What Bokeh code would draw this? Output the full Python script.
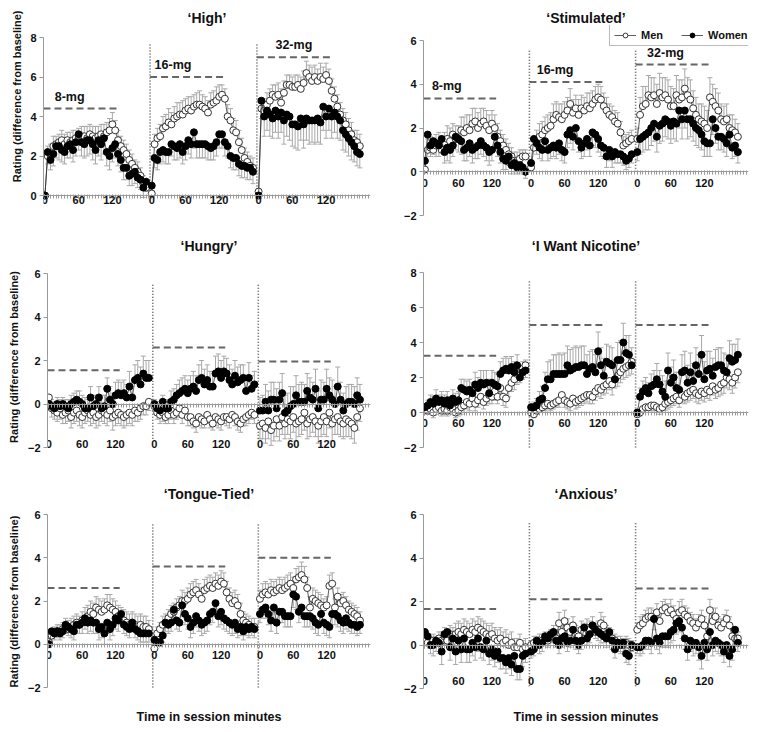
from bokeh.plotting import figure
from bokeh.models import (ColumnDataSource, Whisker, TeeHead, FixedTicker, Legend,
                          LegendItem, Title, Range1d, LinearAxis)
from bokeh.layouts import column, row
from bokeh.embed import file_html
from bokeh.resources import INLINE
from bokeh.core.properties import value

# ---------------- data ----------------
doses = ["8-mg", "16-mg", "32-mg"]
minutes_step = 5            # one rating every 5 min, 0..180 per session
session_points = 37
session_step = 38           # categories from one session start to the next
tick_minutes = [0, 60, 120]

titles = ["\u2018High\u2019", "\u2018Stimulated\u2019", "\u2018Hungry\u2019",
          "\u2018I Want Nicotine\u2019", "\u2018Tongue-Tied\u2019", "\u2018Anxious\u2019"]

# dashed reference levels per session
high_ref = [4.4, 6.0, 7.0]
stim_ref = [3.35, 4.1, 4.9]
hungry_ref = [1.55, 2.6, 1.95]
nic_ref = [3.25, 5.0, 5.0]
tongue_ref = [2.6, 3.6, 4.0]
anx_ref = [1.65, 2.1, 2.6]

# ---- 'High'
high_men = [
    [0.0, 2.0, 2.1, 2.5, 2.6, 2.7, 2.8, 2.6, 2.8, 2.7, 2.8, 2.9, 2.9, 3.0, 3.0, 2.9, 3.1, 3.0, 2.9, 3.0, 3.1, 3.0, 3.2, 3.3, 3.6, 3.3, 2.8, 2.5, 2.3, 2.1, 1.8, 1.6, 1.4, 1.2, 1.0, 0.6, 0.4],
    [0.1, 2.6, 2.9, 3.0, 3.4, 3.5, 3.7, 3.6, 3.9, 4.0, 4.1, 4.1, 4.3, 4.4, 4.3, 4.5, 4.6, 4.6, 4.5, 4.4, 4.2, 4.6, 4.7, 4.8, 5.0, 5.1, 4.9, 4.0, 3.8, 3.3, 3.2, 2.7, 2.3, 1.9, 1.7, 1.5, 1.4],
    [0.2, 4.4, 4.3, 4.6, 4.8, 5.1, 5.0, 5.1, 4.7, 5.2, 5.6, 5.6, 5.5, 5.5, 5.6, 5.4, 5.7, 6.2, 6.0, 5.8, 6.0, 5.8, 6.0, 5.9, 6.1, 5.8, 5.3, 4.9, 4.5, 4.1, 3.8, 3.6, 3.3, 3.1, 2.8, 2.7, 2.5],
]
high_men_err = [
    [0.0, 0.5, 0.5, 0.5, 0.4, 0.4, 0.5, 0.5, 0.4, 0.5, 0.5, 0.4, 0.5, 0.5, 0.5, 0.6, 0.5, 0.5, 0.6, 0.5, 0.5, 0.6, 0.5, 0.6, 0.6, 0.5, 0.5, 0.5, 0.5, 0.5, 0.5, 0.5, 0.4, 0.5, 0.4, 0.4, 0.4],
    [0.1, 0.5, 0.5, 0.6, 0.6, 0.6, 0.7, 0.6, 0.6, 0.7, 0.6, 0.7, 0.6, 0.6, 0.7, 0.6, 0.6, 0.7, 0.6, 0.6, 0.6, 0.6, 0.6, 0.7, 0.6, 0.5, 0.5, 0.6, 0.6, 0.6, 0.6, 0.6, 0.6, 0.5, 0.5, 0.5, 0.5],
    [0.1, 0.5, 0.6, 0.6, 0.6, 0.5, 0.6, 0.6, 0.7, 0.6, 0.5, 0.5, 0.5, 0.6, 0.5, 0.6, 0.6, 0.6, 0.6, 0.7, 0.6, 0.6, 0.7, 0.6, 0.6, 0.6, 0.6, 0.6, 0.6, 0.6, 0.6, 0.6, 0.6, 0.6, 0.5, 0.6, 0.6],
]
high_women = [
    [0.0, 2.2, 1.8, 2.1, 2.5, 2.5, 2.3, 2.2, 2.5, 2.6, 2.3, 2.7, 3.1, 2.7, 2.6, 2.8, 2.8, 2.6, 2.3, 2.8, 2.6, 2.9, 2.2, 2.0, 2.4, 2.6, 2.1, 1.8, 1.4, 1.4, 1.0, 1.1, 1.2, 0.9, 0.8, 0.4, 0.7],
    [0.5, 1.9, 1.8, 2.2, 2.3, 2.2, 2.2, 2.6, 2.5, 2.4, 2.6, 2.2, 2.5, 2.8, 2.6, 3.2, 2.6, 2.6, 2.6, 2.6, 2.5, 2.4, 2.5, 2.7, 3.1, 3.1, 2.7, 2.5, 2.0, 1.9, 1.9, 1.6, 1.5, 1.5, 1.4, 1.4, 1.2],
    [0.0, 4.8, 4.0, 4.3, 4.1, 3.9, 4.3, 4.0, 4.2, 3.8, 4.1, 4.0, 3.6, 3.6, 3.5, 3.9, 3.6, 3.9, 3.8, 3.8, 3.8, 3.9, 3.7, 4.5, 4.0, 4.4, 4.0, 4.2, 4.0, 3.8, 3.3, 3.1, 2.9, 2.7, 2.5, 2.2, 2.1],
]
high_women_err = [
    [0.0, 0.6, 0.5, 0.6, 0.6, 0.7, 0.6, 0.6, 0.6, 0.7, 0.6, 0.7, 0.8, 0.7, 0.7, 0.8, 0.7, 0.8, 0.7, 0.8, 0.8, 0.8, 0.7, 0.7, 0.7, 0.7, 0.6, 0.6, 0.6, 0.6, 0.5, 0.6, 0.6, 0.5, 0.5, 0.5, 0.5],
    [0.3, 0.5, 0.5, 0.6, 0.6, 0.6, 0.6, 0.6, 0.7, 0.6, 0.7, 0.6, 0.7, 0.7, 0.7, 0.8, 0.7, 0.7, 0.7, 0.7, 0.7, 0.6, 0.7, 0.7, 0.7, 0.7, 0.7, 0.6, 0.6, 0.6, 0.6, 0.6, 0.6, 0.6, 0.6, 0.6, 0.6],
    [0.0, 0.9, 1.0, 1.0, 1.1, 1.0, 1.1, 1.1, 1.0, 1.2, 1.1, 1.2, 1.1, 1.2, 1.2, 1.1, 1.2, 1.1, 1.2, 1.1, 1.2, 1.2, 1.1, 1.2, 1.1, 1.1, 1.1, 1.0, 1.1, 1.0, 1.0, 0.9, 0.9, 0.9, 0.8, 0.7, 0.7],
]

# ---- 'Stimulated'
stim_men = [
    [0.1, 1.0, 1.1, 1.0, 1.2, 1.3, 1.0, 1.3, 1.5, 1.4, 1.7, 1.5, 1.5, 1.9, 1.8, 2.0, 1.9, 2.2, 2.3, 2.0, 2.2, 2.3, 2.1, 1.9, 2.2, 2.0, 1.6, 1.4, 1.2, 1.0, 0.8, 0.7, 0.5, 0.5, 0.6, 0.7, 0.7],
    [0.2, 1.1, 1.4, 1.6, 1.7, 1.9, 2.0, 2.1, 2.4, 2.6, 2.5, 2.4, 2.6, 2.8, 3.1, 2.7, 2.9, 2.6, 2.9, 2.8, 3.0, 2.9, 3.1, 3.3, 3.4, 3.3, 3.0, 2.8, 2.6, 2.5, 2.3, 2.2, 1.8, 1.2, 1.3, 1.4, 1.5],
    [1.5, 2.6, 3.0, 3.1, 3.5, 3.4, 3.5, 3.1, 3.6, 3.4, 3.5, 3.3, 3.0, 3.0, 3.5, 3.3, 3.4, 3.8, 3.5, 3.3, 2.9, 2.6, 2.4, 2.3, 2.2, 2.0, 3.4, 3.2, 3.0, 2.8, 2.4, 2.3, 2.4, 2.0, 1.9, 1.8, 1.6],
]
stim_men_err = [
    [0.1, 0.5, 0.5, 0.5, 0.5, 0.5, 0.6, 0.5, 0.6, 0.6, 0.5, 0.6, 0.6, 0.6, 0.7, 0.6, 0.7, 0.7, 0.6, 0.7, 0.7, 0.6, 0.7, 0.7, 0.6, 0.6, 0.6, 0.5, 0.5, 0.5, 0.5, 0.4, 0.4, 0.4, 0.4, 0.3, 0.3],
    [0.2, 0.5, 0.5, 0.6, 0.6, 0.6, 0.6, 0.6, 0.7, 0.6, 0.6, 0.7, 0.6, 0.6, 0.7, 0.6, 0.6, 0.7, 0.6, 0.6, 0.6, 0.7, 0.6, 0.6, 0.6, 0.6, 0.6, 0.6, 0.5, 0.5, 0.5, 0.5, 0.5, 0.4, 0.4, 0.4, 0.4],
    [0.5, 0.8, 0.9, 0.8, 0.9, 0.9, 0.8, 0.9, 0.9, 0.9, 0.8, 0.9, 0.9, 0.8, 0.9, 0.9, 0.8, 0.9, 0.8, 0.9, 0.8, 0.8, 0.7, 0.8, 0.8, 0.8, 0.9, 0.8, 0.8, 0.8, 0.7, 0.7, 0.7, 0.6, 0.7, 0.6, 0.6],
]
stim_women = [
    [0.5, 1.7, 1.2, 1.4, 1.3, 1.2, 1.5, 0.9, 1.1, 1.0, 1.2, 1.6, 1.5, 1.4, 1.0, 1.1, 1.3, 1.0, 1.1, 1.2, 1.4, 1.2, 1.1, 0.9, 1.0, 1.6, 1.2, 0.9, 0.6, 0.5, 0.7, 0.3, 0.4, 0.2, 0.3, 0.2, 0.0],
    [0.4, 1.5, 1.3, 1.1, 1.0, 1.4, 1.0, 1.1, 1.2, 1.1, 1.3, 1.0, 0.9, 1.7, 1.9, 1.6, 2.0, 1.4, 1.1, 1.3, 1.5, 1.2, 1.8, 1.7, 1.5, 1.2, 1.1, 0.7, 1.0, 0.7, 0.9, 0.8, 0.8, 0.7, 0.5, 0.6, 0.8],
    [0.9, 1.5, 1.6, 1.7, 1.8, 2.0, 2.2, 1.6, 2.1, 2.2, 2.4, 2.3, 2.1, 2.3, 2.2, 2.8, 2.4, 2.8, 2.4, 2.4, 2.2, 2.0, 1.9, 1.7, 1.4, 1.3, 1.3, 2.4, 2.0, 1.6, 1.6, 1.5, 1.3, 1.7, 1.1, 1.2, 0.9],
]
stim_women_err = [
    [0.3, 0.6, 0.5, 0.6, 0.6, 0.5, 0.6, 0.5, 0.6, 0.6, 0.5, 0.6, 0.6, 0.6, 0.5, 0.6, 0.6, 0.6, 0.5, 0.6, 0.6, 0.5, 0.6, 0.6, 0.5, 0.6, 0.5, 0.5, 0.5, 0.4, 0.4, 0.4, 0.4, 0.3, 0.3, 0.3, 0.3],
    [0.3, 0.5, 0.5, 0.5, 0.5, 0.5, 0.5, 0.5, 0.5, 0.5, 0.5, 0.5, 0.5, 0.6, 0.6, 0.6, 0.6, 0.5, 0.5, 0.6, 0.5, 0.5, 0.6, 0.6, 0.6, 0.5, 0.5, 0.5, 0.5, 0.5, 0.5, 0.4, 0.4, 0.4, 0.4, 0.4, 0.4],
    [0.4, 0.7, 0.7, 0.7, 0.8, 0.8, 0.8, 0.7, 0.8, 0.8, 0.8, 0.8, 0.8, 0.8, 0.8, 0.8, 0.9, 0.8, 0.9, 0.8, 0.8, 0.8, 0.8, 0.7, 0.7, 0.6, 0.6, 0.7, 0.7, 0.6, 0.6, 0.6, 0.6, 0.6, 0.5, 0.5, 0.5],
]

# ---- 'Hungry'
hungry_men = [
    [0.3, -0.2, -0.3, -0.4, -0.2, -0.5, -0.4, -0.3, -0.6, -0.4, -0.3, -0.5, -0.6, -0.4, -0.3, -0.5, -0.4, -0.6, -0.5, -0.3, -0.4, -0.5, -0.3, -0.6, -0.5, -0.4, -0.5, -0.6, -0.5, -0.4, -0.5, -0.3, -0.4, -0.2, -0.1, -0.1, 0.1],
    [-0.1, -0.4, -0.5, -0.4, -0.6, -0.5, -0.3, -0.5, -0.4, -0.2, -0.5, -0.3, -0.6, -0.6, -0.8, -0.9, -0.6, -0.7, -0.8, -0.5, -0.7, -0.9, -0.6, -0.7, -0.8, -0.6, -0.6, -0.7, -0.5, -0.6, -0.8, -0.9, -0.7, -0.6, -0.5, -0.4, -0.5],
    [-1.0, -0.9, -1.1, -0.8, -1.2, -1.0, -0.7, -1.0, -0.6, -0.9, -0.7, -0.8, -0.6, -0.9, -0.8, -0.7, -0.4, -0.9, -0.7, -0.6, -0.8, -1.0, -0.8, -0.6, -0.8, -0.4, -0.9, -0.7, -0.6, -0.8, -0.9, -0.7, -0.8, -0.9, -1.1, -0.6, -0.2],
]
hungry_men_err = [
    [0.2, 0.4, 0.4, 0.4, 0.5, 0.4, 0.5, 0.5, 0.5, 0.5, 0.5, 0.5, 0.5, 0.5, 0.5, 0.5, 0.5, 0.5, 0.5, 0.5, 0.5, 0.5, 0.5, 0.6, 0.5, 0.5, 0.5, 0.5, 0.5, 0.5, 0.5, 0.5, 0.4, 0.5, 0.4, 0.4, 0.4],
    [0.2, 0.3, 0.4, 0.4, 0.3, 0.4, 0.4, 0.4, 0.3, 0.4, 0.4, 0.3, 0.4, 0.4, 0.3, 0.4, 0.4, 0.4, 0.3, 0.4, 0.4, 0.3, 0.4, 0.4, 0.4, 0.3, 0.4, 0.4, 0.3, 0.4, 0.4, 0.4, 0.3, 0.4, 0.4, 0.3, 0.4],
    [0.6, 0.7, 0.7, 0.8, 0.7, 0.7, 0.8, 0.7, 0.8, 0.7, 0.7, 0.8, 0.7, 0.8, 0.7, 0.7, 0.8, 0.7, 0.8, 0.7, 0.7, 0.8, 0.7, 0.8, 0.7, 0.7, 0.8, 0.7, 0.8, 0.7, 0.7, 0.8, 0.7, 0.7, 0.7, 0.6, 0.6],
]
hungry_women = [
    [0.0, -0.1, -0.2, 0.0, -0.1, 0.0, -0.1, -0.2, 0.0, 0.1, 0.2, 0.1, 0.0, -0.2, -0.2, 0.3, -0.1, 0.0, 0.3, -0.2, -0.1, 0.7, 0.2, 0.0, 0.4, 0.5, 0.4, 0.5, 0.3, 0.8, 0.3, 1.1, 1.2, 0.9, 1.4, 1.2, 1.2],
    [0.0, -0.2, -0.3, 0.1, -0.2, -0.2, 0.1, 0.2, 0.4, 0.5, 0.6, 0.7, 0.5, 0.7, 0.8, 0.6, 1.1, 1.2, 0.9, 1.1, 0.8, 0.8, 1.4, 1.5, 1.2, 1.5, 1.4, 1.1, 0.9, 1.3, 1.0, 1.1, 1.2, 0.6, 1.2, 0.7, 0.9],
    [-0.3, -0.3, 0.1, -0.3, 0.2, 0.2, -0.2, 0.2, 0.5, -0.4, -0.3, -0.1, 0.0, 0.4, 0.1, 0.1, 0.1, 0.6, 0.3, 0.2, 0.7, -0.2, 0.2, 0.2, 0.7, 0.4, 0.2, 0.0, 0.8, 0.2, -0.3, 0.0, 0.1, 0.1, 0.0, 0.4, 0.2],
]
hungry_women_err = [
    [0.2, 0.3, 0.3, 0.3, 0.3, 0.3, 0.3, 0.4, 0.4, 0.4, 0.4, 0.5, 0.4, 0.5, 0.4, 0.5, 0.5, 0.4, 0.5, 0.6, 0.5, 0.5, 0.6, 0.5, 0.6, 0.6, 0.6, 0.6, 0.6, 0.7, 0.7, 0.7, 0.8, 0.8, 0.8, 0.8, 0.8],
    [0.2, 0.3, 0.3, 0.3, 0.4, 0.4, 0.5, 0.5, 0.5, 0.6, 0.6, 0.6, 0.6, 0.6, 0.7, 0.7, 0.7, 0.8, 0.7, 0.7, 0.7, 0.7, 0.8, 0.8, 0.8, 0.7, 0.7, 0.7, 0.7, 0.7, 0.7, 0.7, 0.6, 0.7, 0.7, 0.6, 0.6],
    [0.6, 0.7, 0.8, 0.9, 0.8, 0.8, 0.9, 0.8, 0.9, 0.8, 0.8, 0.9, 0.8, 0.9, 0.8, 0.9, 0.8, 0.8, 0.9, 0.8, 0.9, 0.8, 0.9, 0.8, 0.9, 0.8, 0.9, 0.8, 0.9, 0.8, 0.8, 0.8, 0.8, 0.8, 0.8, 0.8, 0.7],
]

# ---- 'I Want Nicotine'
nic_men = [
    [0.2, 0.1, 0.2, 0.0, 0.2, 0.3, 0.1, 0.2, 0.1, 0.3, 0.2, 0.0, 0.1, 0.3, 0.4, 0.6, 0.5, 0.8, 0.5, 0.7, 0.9, 0.6, 0.8, 1.0, 0.9, 1.2, 0.9, 1.4, 0.9, 0.8, 1.4, 1.7, 1.9, 2.2, 2.3, 2.5, 2.7],
    [0.0, -0.1, 0.1, 0.2, 0.3, 0.4, 0.5, 0.4, 0.5, 0.6, 0.7, 1.0, 0.7, 0.6, 0.5, 0.8, 0.6, 0.7, 0.8, 0.9, 1.0, 1.0, 0.9, 1.2, 1.4, 1.3, 1.5, 1.6, 1.8, 1.6, 1.9, 2.1, 2.3, 2.5, 2.6, 2.7, 2.9],
    [-0.1, 0.0, 0.2, 0.3, 0.3, 0.4, 0.4, 0.3, 0.2, 0.3, 0.5, 0.6, 0.7, 0.8, 0.9, 0.7, 1.0, 0.9, 1.1, 1.2, 1.3, 1.1, 1.0, 1.2, 1.1, 1.3, 1.2, 1.5, 1.3, 1.4, 1.6, 1.7, 2.0, 1.9, 1.7, 2.0, 2.3],
]
nic_men_err = [
    [0.2, 0.2, 0.3, 0.3, 0.3, 0.3, 0.3, 0.3, 0.3, 0.4, 0.3, 0.3, 0.3, 0.4, 0.4, 0.4, 0.4, 0.4, 0.4, 0.4, 0.4, 0.4, 0.4, 0.5, 0.4, 0.5, 0.4, 0.5, 0.5, 0.5, 0.5, 0.5, 0.6, 0.6, 0.6, 0.6, 0.7],
    [0.1, 0.2, 0.2, 0.2, 0.3, 0.3, 0.3, 0.3, 0.3, 0.3, 0.4, 0.3, 0.4, 0.4, 0.4, 0.4, 0.4, 0.4, 0.4, 0.4, 0.4, 0.5, 0.4, 0.5, 0.5, 0.5, 0.5, 0.5, 0.5, 0.6, 0.5, 0.6, 0.6, 0.6, 0.6, 0.6, 0.7],
    [0.1, 0.2, 0.2, 0.3, 0.3, 0.3, 0.3, 0.3, 0.3, 0.3, 0.4, 0.4, 0.4, 0.4, 0.4, 0.4, 0.4, 0.4, 0.5, 0.5, 0.5, 0.5, 0.5, 0.5, 0.5, 0.5, 0.5, 0.5, 0.5, 0.5, 0.6, 0.6, 0.6, 0.6, 0.6, 0.6, 0.6],
]
nic_women = [
    [0.3, 0.4, 0.6, 0.5, 0.8, 0.6, 0.7, 0.5, 0.7, 0.4, 0.8, 0.6, 0.7, 1.4, 1.3, 1.2, 1.3, 1.1, 1.6, 1.4, 1.7, 1.6, 1.7, 1.1, 1.7, 1.6, 1.5, 2.2, 2.4, 2.5, 2.4, 2.6, 2.3, 2.7, 2.0, 2.3, 2.4],
    [0.3, 0.3, 0.4, 0.7, 0.8, 1.4, 1.9, 1.9, 2.2, 2.2, 2.2, 2.2, 2.2, 2.7, 2.4, 2.5, 2.6, 2.6, 2.7, 2.7, 2.2, 2.5, 2.6, 2.3, 3.5, 2.7, 2.1, 2.9, 2.8, 2.7, 1.9, 3.0, 3.0, 4.0, 3.4, 3.3, 2.7],
    [0.0, 0.9, 1.2, 1.4, 1.1, 1.5, 1.6, 1.9, 1.6, 1.2, 0.9, 2.4, 1.7, 2.0, 1.4, 1.3, 2.3, 2.4, 1.7, 2.3, 1.8, 2.7, 2.2, 3.3, 1.9, 2.4, 2.5, 2.1, 2.6, 2.7, 2.7, 2.4, 2.3, 3.1, 2.9, 3.0, 3.3],
]
nic_women_err = [
    [0.2, 0.3, 0.4, 0.4, 0.5, 0.4, 0.5, 0.5, 0.5, 0.5, 0.5, 0.5, 0.5, 0.5, 0.6, 0.6, 0.6, 0.6, 0.7, 0.6, 0.7, 0.8, 0.7, 0.8, 0.7, 0.7, 0.7, 0.7, 0.7, 0.7, 0.7, 0.6, 0.6, 0.6, 0.6, 0.6, 0.6],
    [0.2, 0.3, 0.4, 0.5, 0.7, 0.9, 1.0, 1.1, 1.1, 1.1, 1.2, 1.1, 1.2, 1.1, 1.2, 1.2, 1.2, 1.1, 1.1, 1.1, 1.1, 1.0, 1.0, 1.0, 1.1, 1.0, 1.0, 1.0, 1.0, 1.0, 1.1, 1.0, 1.1, 1.1, 1.0, 1.1, 1.0],
    [0.1, 0.5, 0.6, 0.6, 0.6, 0.7, 0.8, 0.9, 0.8, 0.9, 0.9, 1.0, 0.9, 1.0, 0.9, 1.0, 1.0, 1.1, 1.0, 1.1, 1.0, 1.0, 1.1, 1.1, 1.0, 1.1, 1.0, 1.0, 1.0, 1.0, 1.0, 1.0, 1.0, 1.0, 1.0, 0.9, 0.9],
]

# ---- 'Tongue-Tied'
tongue_men = [
    [0.1, 0.4, 0.5, 0.6, 0.6, 0.7, 0.8, 0.7, 0.8, 0.9, 1.0, 0.9, 1.1, 1.2, 1.3, 1.5, 1.4, 1.7, 1.6, 1.5, 1.6, 1.8, 1.7, 1.6, 1.5, 1.3, 1.2, 1.1, 1.0, 0.9, 1.0, 0.9, 0.8, 0.9, 0.8, 0.8, 0.7],
    [-0.2, 0.5, 0.7, 0.9, 1.0, 1.2, 1.4, 1.5, 1.7, 1.8, 2.0, 2.0, 2.1, 2.3, 2.4, 2.5, 2.3, 2.1, 2.5, 2.6, 2.7, 2.6, 2.8, 2.7, 2.9, 2.8, 2.4, 2.1, 1.9, 2.0, 1.8, 1.4, 1.1, 1.0, 0.9, 0.8, 0.8],
    [2.1, 2.3, 2.4, 2.3, 2.5, 2.4, 2.5, 2.6, 2.5, 2.6, 2.7, 2.8, 2.6, 3.0, 3.1, 3.2, 3.0, 2.6, 1.7, 2.1, 2.0, 1.9, 1.8, 1.7, 1.8, 2.7, 2.8, 1.7, 2.2, 1.9, 2.0, 1.8, 1.6, 1.5, 1.4, 1.3, 1.1],
]
tongue_men_err = [
    [0.1, 0.3, 0.3, 0.3, 0.3, 0.3, 0.4, 0.4, 0.4, 0.4, 0.4, 0.4, 0.4, 0.5, 0.5, 0.5, 0.5, 0.5, 0.5, 0.5, 0.5, 0.5, 0.6, 0.5, 0.5, 0.5, 0.5, 0.5, 0.5, 0.5, 0.5, 0.5, 0.5, 0.5, 0.5, 0.5, 0.4],
    [0.1, 0.3, 0.3, 0.4, 0.4, 0.4, 0.4, 0.4, 0.4, 0.4, 0.5, 0.4, 0.5, 0.5, 0.5, 0.5, 0.5, 0.5, 0.5, 0.5, 0.5, 0.5, 0.5, 0.5, 0.5, 0.5, 0.5, 0.5, 0.5, 0.5, 0.5, 0.5, 0.4, 0.4, 0.4, 0.4, 0.4],
    [0.4, 0.5, 0.5, 0.5, 0.5, 0.5, 0.5, 0.5, 0.5, 0.5, 0.5, 0.5, 0.5, 0.5, 0.5, 0.6, 0.6, 0.5, 0.5, 0.5, 0.5, 0.5, 0.5, 0.4, 0.4, 0.5, 0.5, 0.4, 0.4, 0.4, 0.4, 0.4, 0.4, 0.4, 0.4, 0.4, 0.4],
]
tongue_women = [
    [0.0, 0.6, 0.5, 0.6, 0.5, 0.6, 0.9, 0.8, 0.7, 0.6, 0.9, 0.9, 1.0, 1.2, 1.0, 1.1, 1.0, 1.0, 0.7, 0.8, 0.5, 1.0, 0.7, 0.9, 1.2, 1.1, 1.4, 0.9, 0.8, 0.7, 1.0, 0.7, 0.6, 0.5, 0.5, 0.5, 0.5],
    [0.2, 0.1, 0.1, 0.4, 1.0, 0.9, 1.0, 1.6, 1.1, 1.0, 1.8, 1.4, 1.2, 0.8, 1.0, 1.3, 1.1, 0.9, 1.0, 1.1, 1.4, 1.5, 1.9, 1.3, 1.5, 1.2, 1.1, 1.0, 0.9, 1.0, 0.7, 0.8, 0.6, 0.8, 0.7, 0.8, 0.7],
    [1.4, 1.6, 1.7, 1.4, 1.1, 1.7, 1.0, 1.5, 1.5, 1.3, 1.3, 1.3, 2.3, 2.2, 1.5, 1.7, 1.3, 1.3, 1.3, 1.2, 1.0, 0.9, 1.4, 1.0, 0.9, 0.8, 1.4, 1.4, 1.3, 1.1, 1.0, 1.2, 1.0, 0.9, 0.9, 0.8, 0.9],
]
tongue_women_err = [
    [0.1, 0.3, 0.3, 0.3, 0.3, 0.3, 0.4, 0.4, 0.4, 0.4, 0.4, 0.4, 0.5, 0.5, 0.5, 0.5, 0.5, 0.5, 0.5, 0.5, 0.5, 0.5, 0.5, 0.5, 0.5, 0.5, 0.5, 0.4, 0.4, 0.4, 0.4, 0.4, 0.4, 0.4, 0.4, 0.4, 0.4],
    [0.1, 0.2, 0.2, 0.3, 0.4, 0.4, 0.4, 0.5, 0.4, 0.4, 0.5, 0.5, 0.5, 0.5, 0.5, 0.5, 0.5, 0.5, 0.5, 0.5, 0.5, 0.5, 0.6, 0.5, 0.6, 0.5, 0.5, 0.5, 0.5, 0.5, 0.4, 0.4, 0.4, 0.4, 0.4, 0.4, 0.4],
    [0.4, 0.4, 0.5, 0.5, 0.5, 0.5, 0.5, 0.5, 0.5, 0.5, 0.5, 0.5, 0.6, 0.6, 0.5, 0.5, 0.5, 0.5, 0.5, 0.5, 0.5, 0.5, 0.5, 0.5, 0.5, 0.5, 0.5, 0.5, 0.5, 0.5, 0.5, 0.5, 0.4, 0.4, 0.4, 0.4, 0.4],
]

# ---- 'Anxious'
anx_men = [
    [0.3, 0.1, 0.0, 0.2, 0.1, 0.3, 0.2, 0.4, 0.2, 0.5, 0.4, 0.5, 0.6, 0.5, 0.7, 0.6, 0.5, 0.7, 0.6, 0.8, 0.7, 0.6, 0.5, 0.4, 0.5, 0.3, 0.2, 0.3, 0.1, 0.2, 0.0, 0.1, -0.1, -0.1, 0.1, -0.2, -0.1],
    [0.0, 0.1, 0.1, 0.2, 0.2, 0.3, 0.2, 0.4, 0.5, 0.3, 1.0, 0.6, 1.1, 0.8, 0.6, 0.9, 0.5, 0.4, 0.7, 0.6, 0.8, 0.7, 0.9, 0.6, 0.7, 1.0, 0.9, 0.5, 0.4, 0.3, 0.2, 0.1, 0.1, 0.0, 0.1, 0.0, -0.1],
    [0.7, 0.9, 1.0, 1.2, 1.3, 1.3, 1.2, 1.5, 1.1, 1.6, 1.7, 1.5, 1.6, 1.4, 1.2, 1.5, 1.6, 1.4, 1.3, 1.1, 1.0, 0.8, 1.0, 1.2, 0.9, 0.4, 1.6, 1.1, 1.3, 0.9, 0.8, 1.0, 1.2, 0.9, 0.4, 0.3, 0.3],
]
anx_men_err = [
    [0.2, 0.3, 0.3, 0.3, 0.3, 0.3, 0.4, 0.4, 0.4, 0.4, 0.4, 0.5, 0.5, 0.5, 0.5, 0.5, 0.5, 0.5, 0.5, 0.5, 0.5, 0.5, 0.5, 0.5, 0.5, 0.5, 0.5, 0.5, 0.5, 0.5, 0.5, 0.5, 0.4, 0.4, 0.4, 0.4, 0.4],
    [0.2, 0.3, 0.3, 0.3, 0.3, 0.3, 0.3, 0.3, 0.4, 0.4, 0.5, 0.4, 0.5, 0.4, 0.4, 0.4, 0.4, 0.4, 0.4, 0.4, 0.4, 0.4, 0.4, 0.4, 0.4, 0.5, 0.4, 0.4, 0.4, 0.4, 0.3, 0.3, 0.3, 0.3, 0.3, 0.3, 0.3],
    [0.3, 0.4, 0.4, 0.4, 0.4, 0.4, 0.4, 0.4, 0.4, 0.4, 0.4, 0.4, 0.5, 0.4, 0.4, 0.5, 0.5, 0.4, 0.4, 0.4, 0.4, 0.4, 0.4, 0.4, 0.4, 0.4, 0.5, 0.4, 0.4, 0.4, 0.4, 0.4, 0.4, 0.4, 0.3, 0.3, 0.3],
]
anx_women = [
    [0.6, 0.4, 0.0, 0.0, 0.2, 0.1, -0.3, 0.5, 0.6, -0.1, 0.3, -0.3, 0.2, -0.2, 0.3, -0.2, -0.2, 0.1, -0.1, 0.3, -0.1, -0.2, 0.2, -0.4, -0.2, -0.5, -0.3, -0.6, -0.6, -0.8, -0.6, -0.9, -0.5, -1.1, -1.1, -0.5, -0.4],
    [-0.3, -0.2, 0.2, 0.0, 0.1, 0.4, 0.3, 0.5, 0.6, 0.2, 0.0, 0.3, 0.4, 0.1, 0.2, 0.7, 0.2, 0.0, 0.2, 0.8, 0.3, 0.5, 0.9, 0.7, 0.6, 0.5, 0.4, 0.3, 0.6, 0.2, -0.2, 0.1, 0.0, 0.1, -0.4, -0.5, 0.0],
    [-0.1, -0.1, 0.0, 0.2, 0.2, 0.1, 1.2, 0.3, 0.1, 0.4, 0.4, 0.4, 0.6, 0.7, 1.0, 1.1, 0.8, 0.3, -0.2, 0.2, 0.0, 0.1, -0.1, -0.5, 0.1, -0.2, 0.6, 0.0, 0.2, 0.1, 0.0, -0.3, 0.0, -0.5, -0.2, 0.7, 0.1],
]
anx_women_err = [
    [0.3, 0.4, 0.4, 0.5, 0.5, 0.5, 0.6, 0.5, 0.6, 0.6, 0.5, 0.6, 0.6, 0.6, 0.6, 0.6, 0.6, 0.6, 0.6, 0.6, 0.5, 0.5, 0.5, 0.5, 0.5, 0.5, 0.5, 0.5, 0.5, 0.5, 0.5, 0.5, 0.5, 0.5, 0.5, 0.5, 0.4],
    [0.3, 0.3, 0.3, 0.4, 0.4, 0.3, 0.4, 0.4, 0.4, 0.3, 0.4, 0.4, 0.4, 0.4, 0.3, 0.4, 0.4, 0.4, 0.4, 0.4, 0.3, 0.4, 0.4, 0.4, 0.4, 0.4, 0.3, 0.4, 0.4, 0.4, 0.4, 0.4, 0.4, 0.4, 0.4, 0.4, 0.3],
    [0.3, 0.4, 0.4, 0.4, 0.4, 0.5, 0.5, 0.5, 0.5, 0.5, 0.5, 0.5, 0.5, 0.5, 0.5, 0.5, 0.5, 0.5, 0.5, 0.5, 0.5, 0.5, 0.6, 0.6, 0.5, 0.5, 0.5, 0.5, 0.5, 0.5, 0.5, 0.5, 0.5, 0.5, 0.5, 0.5, 0.4],
]

# ---------------- styling / layout ----------------
FONT = "Liberation Sans"
ERR = "#a8a8a8"
AXIS = "#9a9a9a"
X_LO, X_HI = -0.5, 115.8
YLABEL = "Rating (difference from baseline)"

# per row: frame top / bottom (page px), border top / bottom, title standoff
ROWS = [
    dict(ftop=25, fbot=216, bt=25, bb=6, ts=0),
    dict(ftop=265, fbot=448, bt=43, bb=6, ts=24),
    dict(ftop=513, fbot=689, bt=59, bb=37, ts=24),
]

panels = [
    dict(men=high_men, men_err=high_men_err, women=high_women, women_err=high_women_err,
         men_dir=1, women_dir=-1, ref=high_ref, yt=[0, 2, 4, 6, 8], tpx=(37, 195), vl=(0, 7.7),
         xs=-3, doses=True, dx=[3.5, 1.0, 6.0]),
    dict(men=stim_men, men_err=stim_men_err, women=stim_women, women_err=stim_women_err,
         men_dir=1, women_dir=-1, ref=stim_ref, yt=[-2, 0, 2, 4, 6], tpx=(40, 215), vl=(0, 5.6),
         xs=4, doses=True, dx=[2.5, 2.0, 3.5]),
    dict(men=hungry_men, men_err=hungry_men_err, women=hungry_women, women_err=hungry_women_err,
         men_dir=-1, women_dir=1, ref=hungry_ref, yt=[-2, 0, 2, 4, 6], tpx=(273, 447), vl=(-1.6, 5.5),
         xs=33, doses=False),
    dict(men=nic_men, men_err=nic_men_err, women=nic_women, women_err=nic_women_err,
         men_dir=-1, women_dir=1, ref=nic_ref, yt=[-2, 0, 2, 4, 6, 8], tpx=(272, 447), vl=(-2, 7.5),
         xs=3, doses=False),
    dict(men=tongue_men, men_err=tongue_men_err, women=tongue_women, women_err=tongue_women_err,
         men_dir=1, women_dir=-1, ref=tongue_ref, yt=[-2, 0, 2, 4, 6], tpx=(514, 687), vl=(-2, 5.6),
         xs=4, doses=False),
    dict(men=anx_men, men_err=anx_men_err, women=anx_women, women_err=anx_women_err,
         men_dir=1, women_dir=-1, ref=anx_ref, yt=[-2, 0, 2, 4, 6], tpx=(514, 688), vl=(-1.9, 5.6),
         xs=29, doses=False),
]


def session_x(k):
    return [k * session_step + i for i in range(session_points)]


def add_series(p, vals, errs, direction, filled):
    line_r = scat_r = None
    for k in range(3):
        xs = session_x(k)
        ys = vals[k]
        es = errs[k]
        if direction > 0:
            lo, hi = ys, [y + e for y, e in zip(ys, es)]
        else:
            lo, hi = [y - e for y, e in zip(ys, es)], ys
        src = ColumnDataSource(dict(x=xs, y=ys, lo=lo, hi=hi))
        head = TeeHead(size=5, line_color=ERR, line_width=1)
        wk = Whisker(source=src, base="x", lower="lo", upper="hi", line_color=ERR, line_width=1,
                     upper_head=head if direction > 0 else None,
                     lower_head=head if direction < 0 else None, level="underlay")
        p.add_layout(wk)
        lr = p.line("x", "y", source=src, line_color="#333333", line_width=0.8)
        sr = p.scatter("x", "y", source=src, marker="circle", size=7,
                       fill_color="black" if filled else "white",
                       line_color="black" if filled else "#333333", line_width=1)
        if k == 0:
            line_r, scat_r = lr, sr
    return line_r, scat_r


def build(idx, cfg):
    left = idx % 2 == 0
    rw = ROWS[idx // 2]
    # y range chosen so the first/last tick sit where they sit in the original panel
    v_hi, v_lo = cfg["yt"][-1], cfg["yt"][0]
    px_hi, px_lo = cfg["tpx"]
    scale = (px_lo - px_hi) / (v_hi - v_lo)
    y_top = v_hi + (px_hi - rw["ftop"]) / scale
    y_bot = v_lo - (rw["fbot"] - px_lo) / scale
    fh = rw["fbot"] - rw["ftop"]

    bl, br = (43, 10) if left else (43, 6)
    fw = 327 if left else 325
    p = figure(width=bl + fw + br, height=rw["bt"] + fh + rw["bb"], output_backend="svg",
               toolbar_location=None, x_range=Range1d(X_LO, X_HI), y_range=Range1d(y_bot, y_top),
               min_border_left=bl, min_border_right=br,
               min_border_top=rw["bt"], min_border_bottom=rw["bb"])
    p.outline_line_color = None
    p.grid.visible = False
    p.background_fill_color = "white"
    p.border_fill_color = "white"

    p.title.text = titles[idx]
    p.title.align = "center"
    p.title.text_font = FONT
    p.title.text_font_size = "14px"
    p.title.text_font_style = "bold"
    p.title.text_color = "#111111"
    p.title.standoff = rw["ts"]

    # x axis placed on the zero line
    ax = p.xaxis[0]
    ax.fixed_location = 0
    major = [k * session_step + m // minutes_step for k in range(3) for m in tick_minutes]
    ax.ticker = FixedTicker(ticks=major, minor_ticks=list(range(0, int(X_HI) + 1)))
    ax.major_label_overrides = {t: str(tick_minutes[i % 3]) for i, t in enumerate(major)}
    ax.axis_line_color = AXIS
    ax.major_tick_line_color = AXIS
    ax.minor_tick_line_color = AXIS
    ax.major_tick_in = 1
    ax.major_tick_out = 3
    ax.minor_tick_in = 1
    ax.minor_tick_out = 3
    ax.major_label_standoff = cfg["xs"]
    ax.major_label_text_font = FONT
    ax.major_label_text_font_size = "11px"
    ax.major_label_text_font_style = "bold"
    ax.major_label_text_color = "#111111"

    ay = p.yaxis[0]
    ay.ticker = FixedTicker(ticks=cfg["yt"])
    ay.bounds = (v_lo, v_hi)
    ay.axis_line_color = AXIS
    ay.major_tick_line_color = AXIS
    ay.minor_tick_line_color = None
    ay.major_tick_in = 0
    ay.major_tick_out = 4
    ay.major_label_standoff = 3
    ay.major_label_text_font = FONT
    ay.major_label_text_font_size = "11px"
    ay.major_label_text_font_style = "bold"
    ay.major_label_text_color = "#111111"
    if left:
        if idx == 0:
            yl = Title(text=YLABEL, align="right", offset=10 - rw["ftop"], standoff=10)
        else:
            yl = Title(text=YLABEL, align="center", standoff=10)
        yl.text_font = FONT
        yl.text_font_size = "11px"
        yl.text_font_style = "bold"
        yl.text_color = "#111111"
        p.add_layout(yl, "left")

    # session separators (dotted) and dose reference lines (dashed)
    sep_x = [k * session_step - 0.6 for k in (1, 2)]
    p.segment(x0=sep_x, x1=sep_x, y0=[cfg["vl"][0]] * 2, y1=[cfg["vl"][1]] * 2,
              line_color="#555555", line_width=1.6, line_dash="1 2")
    rx0 = [X_LO] + sep_x
    rx1 = [k * session_step + 25.5 for k in range(3)]
    p.segment(x0=rx0, x1=rx1, y0=cfg["ref"], y1=cfg["ref"],
              line_color="#666666", line_width=2, line_dash="7 4")
    if cfg["doses"]:
        p.text(x=[k * session_step + cfg["dx"][k] for k in range(3)], y=cfg["ref"], text=doses,
               text_font=value(FONT), text_font_size="12.5px", text_font_style="bold",
               text_color="#111111", text_baseline="bottom", text_align="left", y_offset=-5)

    men_r = add_series(p, cfg["men"], cfg["men_err"], cfg["men_dir"], filled=False)
    women_r = add_series(p, cfg["women"], cfg["women_err"], cfg["women_dir"], filled=True)

    if idx == 1:
        leg = Legend(items=[LegendItem(label="Men", renderers=list(men_r)),
                            LegendItem(label="Women", renderers=list(women_r))],
                     location=(186, rw["fbot"] - 46), orientation="horizontal")
        leg.border_line_color = "#777777"
        leg.border_line_width = 1
        leg.background_fill_color = "white"
        leg.background_fill_alpha = 1
        leg.label_text_font = FONT
        leg.label_text_font_size = "11px"
        leg.label_text_font_style = "bold"
        leg.label_text_color = "#111111"
        leg.padding = 4
        leg.spacing = 18
        leg.glyph_width = 22
        leg.glyph_height = 12
        leg.label_height = 12
        leg.label_standoff = 5
        leg.margin = 0
        p.add_layout(leg)

    if idx >= 4:
        xl = LinearAxis(ticker=FixedTicker(ticks=[]), axis_line_color=None,
                        major_tick_line_color=None, minor_tick_line_color=None,
                        major_tick_out=0, minor_tick_out=0, major_label_standoff=0,
                        axis_label="Time in session minutes", axis_label_standoff=20,
                        axis_label_text_font=FONT, axis_label_text_font_size="12.5px",
                        axis_label_text_font_style="bold", axis_label_text_color="#111111")
        p.add_layout(xl, "below")
    return p


figs = [build(i, c) for i, c in enumerate(panels)]
layout = column(row(figs[0], figs[1]), row(figs[2], figs[3]), row(figs[4], figs[5]))

open("out.html", "w").write(file_html(layout, INLINE))
